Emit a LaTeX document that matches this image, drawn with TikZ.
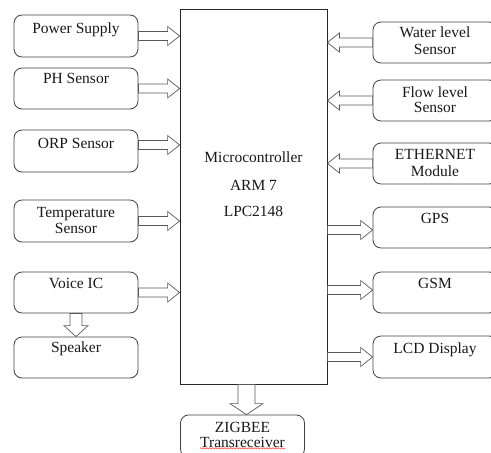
\documentclass[tikz,border=0pt]{standalone}
\usepackage{fontspec}
\setmainfont{Liberation Serif}
\usetikzlibrary{calc,decorations.pathmorphing}
\tikzset{
  box/.style={draw=black!75, line width=0.8pt, rounded corners=8pt, minimum width=124pt, minimum height=42pt, inner sep=0pt},
  txt/.style={font=\fontsize{15.5}{18}\selectfont, anchor=base, inner sep=0pt, text=black!90},
  barrow/.style={draw=black!65, fill=white, line width=0.7pt, line join=miter},
  mainbox/.style={draw=black!85, line width=0.8pt, minimum width=147pt, minimum height=375pt, inner sep=0pt}
}
% horizontal block arrow: #1 start, #2 tip
\newcommand{\barrowH}[2]{%
  \draw[barrow] let \p1=(#1), \p2=(#2), \n1={sign(\x2-\x1)} in
    (\x1,\y1+4.5pt) -- (\x2-\n1*12pt,\y1+4.5pt) -- (\x2-\n1*12pt,\y1+9.5pt) -- (\x2,\y1)
    -- (\x2-\n1*12pt,\y1-9.5pt) -- (\x2-\n1*12pt,\y1-4.5pt) -- (\x1,\y1-4.5pt) -- cycle;}
% vertical (downward) block arrow: #1 start, #2 tip, #3 shaft half, #4 head half
\newcommand{\barrowV}[4]{%
  \draw[barrow] let \p1=(#1), \p2=(#2) in
    (\x1-#3,\y1) -- (\x1-#3,\y2+11pt) -- (\x1-#4,\y2+11pt) -- (\x1,\y2)
    -- (\x1+#4,\y2+11pt) -- (\x1+#3,\y2+11pt) -- (\x1+#3,\y1) -- cycle;}
\begin{document}
\begin{tikzpicture}[x=1pt,y=-1pt]
\useasboundingbox (0,0) rectangle (491,453);
% main block
\node[mainbox] (main) at (253.5,196.5) {};
\node[txt] (t1) at (253.5,162) {Microcontroller};
\node[txt] (t2) at (253.5,190) {ARM 7};
\node[txt] (t3) at (253.5,216) {LPC2148};
% left boxes
\node[box] (ps) at (76,36) {};
\node[box, minimum height=41pt] (ph) at (76,88.5) {};
\node[box] (orp) at (76,151) {};
\node[box] (temp) at (76,221) {};
\node[box, minimum height=41pt] (voice) at (76,292.5) {};
\node[box, minimum height=41pt] (spk) at (76,357.5) {};
\node[txt] (psT) at (76,33) {Power Supply};
\node[txt] (phT) at (76,83) {PH Sensor};
\node[txt] (orpT) at (76,148) {ORP Sensor};
\node[txt] (tempT1) at (76,217) {Temperature};
\node[txt] (tempT2) at (76,233) {Sensor};
\node[txt] (voiceT) at (76,288) {Voice IC};
\node[txt] (spkT) at (76,352) {Speaker};
% right boxes
\node[box, minimum height=41pt] (water) at (435,42.5) {};
\node[box, minimum height=41pt] (flow) at (435,100.5) {};
\node[box, minimum height=41pt] (eth) at (435,163.5) {};
\node[box, minimum height=41pt] (gps) at (435,227.5) {};
\node[box, minimum height=41pt] (gsm) at (435,292.5) {};
\node[box] (lcd) at (435,357) {};
\node[txt] (waterT1) at (435,37) {Water level};
\node[txt] (waterT2) at (435,54) {Sensor};
\node[txt] (flowT1) at (435,97) {Flow level};
\node[txt] (flowT2) at (435,112) {Sensor};
\node[txt] (ethT1) at (435,159) {ETHERNET};
\node[txt] (ethT2) at (435,176) {Module};
\node[txt] (gpsT) at (435,223) {GPS};
\node[txt] (gsmT) at (435,288) {GSM};
\node[txt] (lcdT) at (435,353) {LCD Display};
% zigbee box
\node[box] (zig) at (242.5,436) {};
\node[txt] (zigT1) at (242.5,432) {ZIGBEE};
\node[txt] (zigT2) at (242.5,447) {Transreceiver};
\draw[red!80, line width=0.5pt, decorate, decoration={snake, amplitude=0.7pt, segment length=3pt}]
  ([yshift=-1pt]zigT2.south west) -- ([yshift=-1pt]zigT2.south east);
% helper coordinates
\coordinate (orpA) at ([yshift=6pt]orp.east);
\coordinate (gpsA) at ([yshift=-2.5pt]gps.west);
\coordinate (gsmA) at ([yshift=2.5pt]gsm.west);
\coordinate (zigA) at ([xshift=-7pt]main.south);
% arrows into main from left
\barrowH{ps.east}{ps.east -| main.west}
\barrowH{ph.east}{ph.east -| main.west}
\barrowH{orpA}{orpA -| main.west}
\barrowH{temp.east}{temp.east -| main.west}
\barrowH{voice.east}{voice.east -| main.west}
% arrows into main from right
\barrowH{water.west}{water.west -| main.east}
\barrowH{flow.west}{flow.west -| main.east}
\barrowH{eth.west}{eth.west -| main.east}
% arrows out of main to right
\barrowH{gpsA -| main.east}{gpsA}
\barrowH{gsmA -| main.east}{gsmA}
\barrowH{lcd.west -| main.east}{lcd.west}
% vertical arrows
\barrowV{voice.south}{spk.north}{6pt}{12pt}
\barrowV{zigA}{zigA |- zig.north}{8.5pt}{16.5pt}
\end{tikzpicture}
\end{document}
